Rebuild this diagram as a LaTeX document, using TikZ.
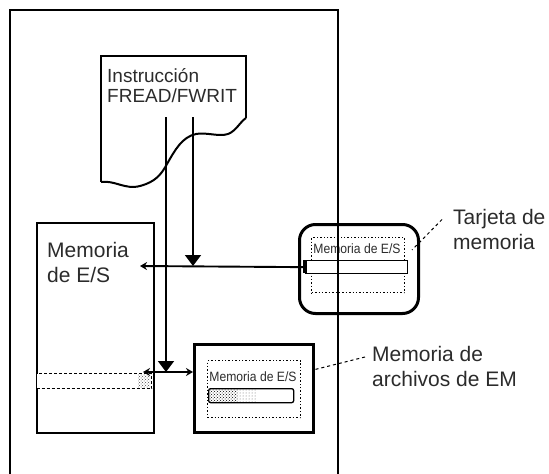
\documentclass[tikz,border=0pt]{standalone}
\usepackage{fontspec}
\setmainfont{Liberation Sans}
\usetikzlibrary{arrows.meta,patterns}
\definecolor{inkgray}{HTML}{2B2B2B}
\tikzset{
  frame line/.style={draw=black,line width=2.4pt},
  block/.style={draw=black,line width=2pt,inner sep=0pt,anchor=north west},
  thick block/.style={block,line width=3pt},
  area/.style={draw=black,dotted,line width=1.4pt,inner sep=0pt,anchor=north west},
  strip/.style={draw=black,fill=white,line width=1.3pt,inner sep=0pt,anchor=north west},
  memlabel/.style={font=\fontsize{21}{25}\selectfont,text=inkgray,align=left,
    inner sep=0pt,anchor=north west},
  doclabel/.style={memlabel,font=\fontsize{19}{20}\selectfont},
  smalllabel/.style={font=\fontsize{13.5}{14}\selectfont,text=inkgray,inner sep=0pt},
  flow/.style={draw=black,line width=1.9pt},
  drop tip/.style={-{Triangle[width=16pt,length=11pt]}},
  side tip/.style={-{Stealth[width=8pt,length=7pt]}},
  leader/.style={draw=black,dashed,line width=1pt}
}
\newcommand{\narrowio}{\scalebox{0.9}[1]{Memoria de E/S}}

\begin{document}
\begin{tikzpicture}[x=1pt,y=-1pt]
  \useasboundingbox (0,0) rectangle (549,474);

  \draw[frame line] (101,182) -- (101,56) -- (246,56) -- (246,118);
  \draw[frame line,line width=2pt] (101,182) .. controls (115,180) and (125,190) .. (140,186)
    .. controls (155,182) and (161,175) .. (167,164)
    .. controls (175,150) and (182,137) .. (196,134)
    .. controls (206,132) and (219,137) .. (228,134)
    .. controls (236,131) and (240,122) .. (246,118);
  \node[doclabel] (instr) at (107,68.5) {Instrucción\\FREAD/FWRIT};
  \coordinate (readtop) at (193,117);
  \coordinate (writetop) at (166,117);

  \node[block,minimum width=117pt,minimum height=210pt] (iomem) at (36,222) {};
  \node[memlabel] (iotext) at (47,242) {Memoria\\de E/S};
  \node[strip,densely dashed,minimum width=115pt,minimum height=15pt] (iostrip) at (36,373) {};
  \fill[pattern=crosshatch dots,pattern color=black!70] (138,374) rectangle (150,387);

  \node[thick block,rounded corners=16pt,minimum width=119pt,minimum height=89pt] (card) at (298,223) {};
  \node[area,minimum width=93pt,minimum height=55pt] (cardarea) at (311,237) {};
  \node[smalllabel] (cardtext) at (357,249) {\narrowio};
  \node[strip,minimum width=102pt,minimum height=13pt] (cardstrip) at (305,260) {};
  \fill (303,260) rectangle (307,273);

  \node[thick block,minimum width=119pt,minimum height=88pt] (emfile) at (193,343) {};
  \node[area,minimum width=93pt,minimum height=57pt] (emarea) at (207,360) {};
  \node[smalllabel] (emtext) at (253,377) {\narrowio};
  \node[strip,rounded corners=2pt,minimum width=85pt,minimum height=14pt] (emstrip) at (208,388) {};
  \fill[pattern=crosshatch dots,pattern color=black] (209,389) rectangle (238,401);
  \fill[pattern=dots,pattern color=black!60] (238,389) rectangle (256,401);

  \coordinate (readjoin) at (193,266);
  \coordinate (iotip) at (140,266);
  \coordinate (writejoin) at (166,372);
  \coordinate (stripend) at (143,372);
  \coordinate (emin) at (193,372);
  \draw[flow,drop tip] (readtop) -- (readjoin);
  \draw[flow,side tip] (cardstrip.west) -- (iotip);
  \draw[flow,drop tip] (writetop) -- (writejoin);
  \draw[flow,{Stealth[width=8pt,length=7pt]}-{Stealth[width=8pt,length=7pt]}] (stripend) -- (emin);

  \draw[frame line] (10,474) -- (10,10) -- (338,10) -- (338,474);

  \node[memlabel] (cardlabel) at (453,209.5) {Tarjeta de\\memoria};
  \coordinate (cardpt) at (412,250);
  \draw[leader] ([shift={(-11,10)}]cardlabel.north west) -- (cardpt);
  \node[memlabel] (emlabel) at (372,346.5) {Memoria de\\archivos de EM};
  \coordinate (empt) at (313,370);
  \draw[leader] ([shift={(-7,10.5)}]emlabel.north west) -- (empt);
\end{tikzpicture}
\end{document}
